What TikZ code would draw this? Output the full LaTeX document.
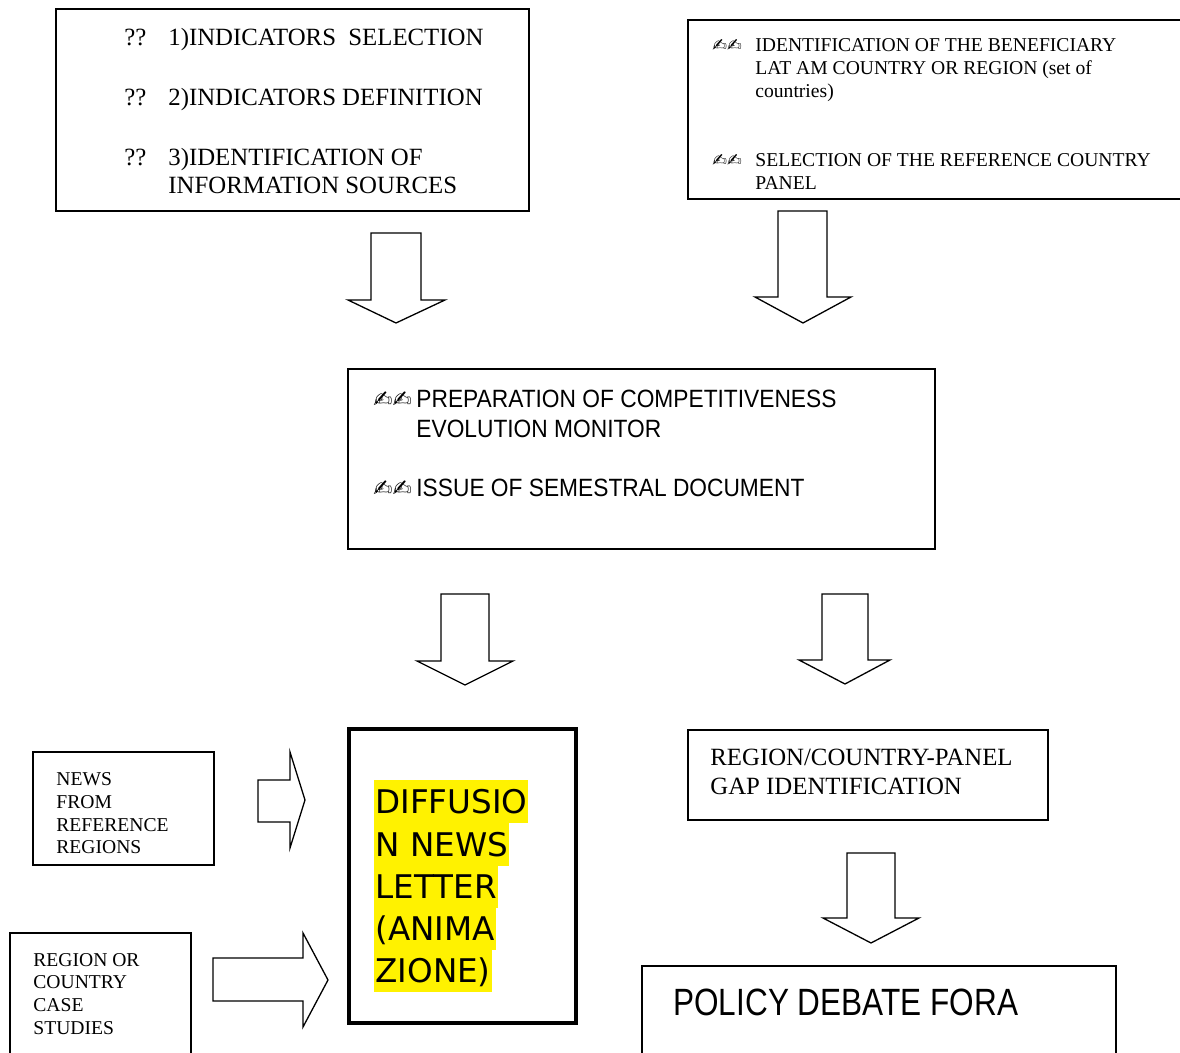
\documentclass[tikz,border=0pt]{standalone}
\usepackage{fontspec}
\setmainfont{Liberation Serif}
\newfontfamily\narrowsans[FakeStretch=0.91]{Liberation Sans}
\newfontfamily\forasans[FakeStretch=0.83]{Liberation Sans}
\newfontfamily\widesans{DejaVu Sans}
\newfontfamily\penfont{DejaVu Sans}

\tikzset{
  box/.style={draw, line width=0.65pt},
  thickbox/.style={draw, line width=2pt},
  blockarrow/.style={draw, fill=white, line width=0.65pt, line join=miter},
  txt/.style={anchor=base west, inner sep=0pt},
  bigtxt/.style={txt, font=\fontsize{12.4}{14}\selectfont},
  smalltxt/.style={txt, font=\fontsize{9.8}{11.5}\selectfont},
  montxt/.style={txt, font=\narrowsans\fontsize{12.5}{15}\selectfont},
  pen/.style={txt, font=\penfont\fontsize{#1}{#1}\selectfont},
  hl/.style={txt, inner xsep=0.5pt, fill=yellow, text height=17pt, text depth=4.5pt,
    font=\widesans\fontsize{16.3}{16}\selectfont},
}

\begin{document}
\begin{tikzpicture}[x=0.5pt, y=-0.5pt]
  \useasboundingbox (0,0) rectangle (1180,1053);
  \clip (0,0) rectangle (1180,1053);

  % top left box: indicators
  \draw[box] (56,9) rectangle (529,211);
  \node[bigtxt] (q1) at (124,46) {??};
  \node[bigtxt] (ind1) at (168,46) {1)INDICATORS\ \ SELECTION};
  \node[bigtxt] (q2) at (124,106) {??};
  \node[bigtxt] (ind2) at (168,106) {2)INDICATORS DEFINITION};
  \node[bigtxt] (q3) at (124,166) {??};
  \node[bigtxt] (ind3) at (168,166) {3)IDENTIFICATION OF};
  \node[bigtxt] (ind3b) at (168,194) {INFORMATION SOURCES};

  % top right box: beneficiary and panel (runs off the page)
  \draw[box] (688,20) rectangle (1200,199);
  \node[pen=8.8] (pen1) at (712,52) {✍✍};
  \node[smalltxt] (ben1) at (755,52) {IDENTIFICATION OF THE BENEFICIARY};
  \node[smalltxt] (ben2) at (755,75) {LAT AM COUNTRY OR REGION (set of};
  \node[smalltxt] (ben3) at (755,98) {countries)};
  \node[pen=8.8] (pen2) at (712,167) {✍✍};
  \node[smalltxt] (pan1) at (755,167) {SELECTION OF THE REFERENCE COUNTRY};
  \node[smalltxt] (pan2) at (755,190) {PANEL};

  % down arrows under the top boxes
  \draw[blockarrow] (371,233) -- (421,233) -- (421,300) -- (445,300) -- (396,323)
    -- (348,300) -- (371,300) -- cycle;
  \draw[blockarrow] (778,211) -- (827,211) -- (827,297) -- (851,297) -- (803,323)
    -- (755,297) -- (778,297) -- cycle;

  % middle box: monitor
  \draw[box] (348,369) rectangle (935,549);
  \node[pen=11.5] (pen3) at (373,408) {✍✍};
  \node[montxt] (mon1) at (416,408) {PREPARATION OF COMPETITIVENESS};
  \node[montxt] (mon2) at (416,438) {EVOLUTION MONITOR};
  \node[pen=11.5] (pen4) at (373,497) {✍✍};
  \node[montxt] (doc1) at (416,497) {ISSUE OF SEMESTRAL DOCUMENT};

  % down arrows under the middle box
  \draw[blockarrow] (441,594) -- (489,594) -- (489,661) -- (513,661) -- (465,685)
    -- (417,661) -- (441,661) -- cycle;
  \draw[blockarrow] (822,594) -- (868,594) -- (868,660) -- (890,660) -- (845,684)
    -- (799,660) -- (822,660) -- cycle;

  % news letter box (thick)
  \draw[thickbox] (349,729) rectangle (576,1023);
  \node[hl] (nl1) at (374,814) {DIFFUSIO};
  \node[hl] (nl2) at (374,857) {N NEWS};
  \node[hl] (nl3) at (374,899) {LETTER};
  \node[hl] (nl4) at (374,941) {(ANIMA};
  \node[hl] (nl5) at (374,983) {ZIONE)};

  % left inputs
  \draw[box] (33,752) rectangle (214,865);
  \node[smalltxt] (news1) at (56,786) {NEWS};
  \node[smalltxt] (news2) at (56,809) {FROM};
  \node[smalltxt] (news3) at (56,832) {REFERENCE};
  \node[smalltxt] (news4) at (56,854) {REGIONS};

  \draw[box] (10,933) rectangle (191,1070);
  \node[smalltxt] (case1) at (33,966) {REGION OR};
  \node[smalltxt] (case2) at (33,989) {COUNTRY};
  \node[smalltxt] (case3) at (33,1012) {CASE};
  \node[smalltxt] (case4) at (33,1035) {STUDIES};

  % right arrows into the news letter
  \draw[blockarrow] (258,780) -- (290,780) -- (290,752) -- (305,800) -- (290,848)
    -- (290,822) -- (258,822) -- cycle;
  \draw[blockarrow] (213,958) -- (303,958) -- (303,933) -- (328,980) -- (303,1027)
    -- (303,1001) -- (213,1001) -- cycle;

  % gap identification and policy fora
  \draw[box] (688,730) rectangle (1048,820);
  \node[bigtxt] (gap1) at (710,766) {REGION/COUNTRY-PANEL};
  \node[bigtxt] (gap2) at (710,795) {GAP IDENTIFICATION};

  \draw[blockarrow] (847,853) -- (895,853) -- (895,918) -- (919,918) -- (871,943)
    -- (823,918) -- (847,918) -- cycle;

  \draw[box] (642,966) rectangle (1116,1070);
  \node[txt, font=\forasans\fontsize{19}{20}\selectfont] (fora) at (673,1015) {POLICY DEBATE FORA};
\end{tikzpicture}
\end{document}
